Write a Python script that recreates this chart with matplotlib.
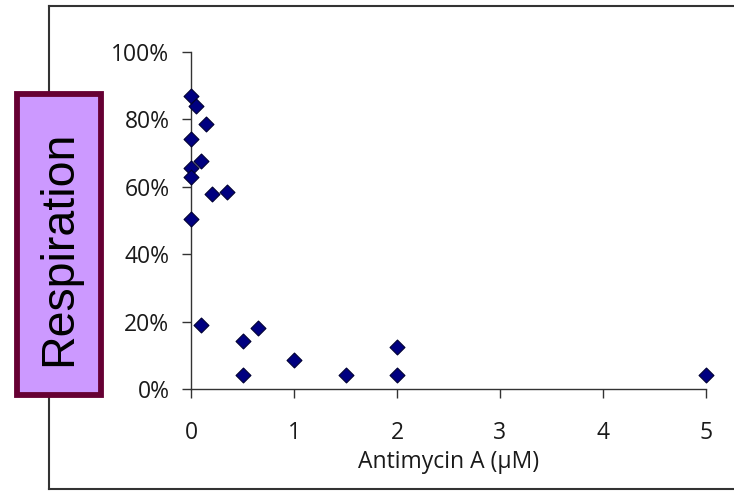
import matplotlib
matplotlib.use("Agg")
import matplotlib.pyplot as plt
from matplotlib.patches import Rectangle
from matplotlib.lines import Line2D
from matplotlib.ticker import FuncFormatter

# Antimycin A concentration (µM) and fractional respiration
antimycin = [0, 0.05, 0.15, 0, 0.1, 0, 0, 0.2, 0.35, 0,
             0.1, 0.5, 0.65, 0.5, 1, 1.5, 2, 2, 5]
respiration = [0.87, 0.84, 0.785, 0.74, 0.675, 0.655, 0.63, 0.578, 0.584, 0.505,
               0.19, 0.143, 0.182, 0.042, 0.087, 0.041, 0.125, 0.041, 0.041]

x_ticks = [0, 1, 2, 3, 4, 5]
y_ticks = [0, 0.2, 0.4, 0.6, 0.8, 1.0]

W, H = 734, 491
fig = plt.figure(figsize=(W / 100, H / 100), dpi=100)
fig.patch.set_facecolor("white")

ax = fig.add_axes([191 / W, 1 - 389 / H, (706 - 191) / W, (389 - 51.7) / H])
ax.scatter(antimycin, respiration, marker="D", s=7.6 ** 2, color="#000080",
           edgecolors="#000033", linewidths=0.8, clip_on=False, zorder=3)

ax.set_xlim(0, 5)
ax.set_ylim(0, 1)
ax.set_xticks(x_ticks)
ax.set_yticks(y_ticks)
ax.yaxis.set_major_formatter(FuncFormatter(lambda v, p: f"{v * 100:.0f}%"))

for side in ("top", "right"):
    ax.spines[side].set_visible(False)
for side in ("left", "bottom"):
    ax.spines[side].set_linewidth(1.0)
    ax.spines[side].set_color("#333333")

ax.tick_params(axis="both", direction="out", length=6.5, width=1.0, color="#333333",
               labelcolor="#1a1a1a")
ax.tick_params(axis="x", pad=16.5)
ax.tick_params(axis="y", pad=9)
for lab in ax.get_xticklabels() + ax.get_yticklabels():
    lab.set_fontfamily("Open Sans")
    lab.set_fontsize(16.5)

ax.set_xlabel("Antimycin A (µM)", fontfamily="Open Sans", fontsize=16.5,
              color="#1a1a1a", labelpad=4)

# outer frame around the chart area
frame_kw = dict(color="#333333", linewidth=1.5, transform=fig.transFigure)
fig.add_artist(Line2D([48.5 / W, 1.0], [1 - 6 / H, 1 - 6 / H], **frame_kw))
fig.add_artist(Line2D([48.5 / W, 48.5 / W], [1 - 6 / H, 1 - 489 / H], **frame_kw))
fig.add_artist(Line2D([48.5 / W, 1.0], [1 - 489 / H, 1 - 489 / H], **frame_kw))

# highlighted y-axis title box
bx0, bx1, by0, by1 = 17, 101, 93.5, 394.5
fig.add_artist(Rectangle((bx0 / W, 1 - by1 / H), (bx1 - bx0) / W, (by1 - by0) / H,
                         transform=fig.transFigure, facecolor="#CC99FF",
                         edgecolor="#660033", linewidth=4.2, zorder=5))
fig.text(59 / W, 1 - 248 / H, "Respiration", rotation=90, ha="center", va="center",
         fontfamily="Liberation Sans", fontsize=33.5, color="black", zorder=6)

fig.savefig("out.png", dpi=100)
